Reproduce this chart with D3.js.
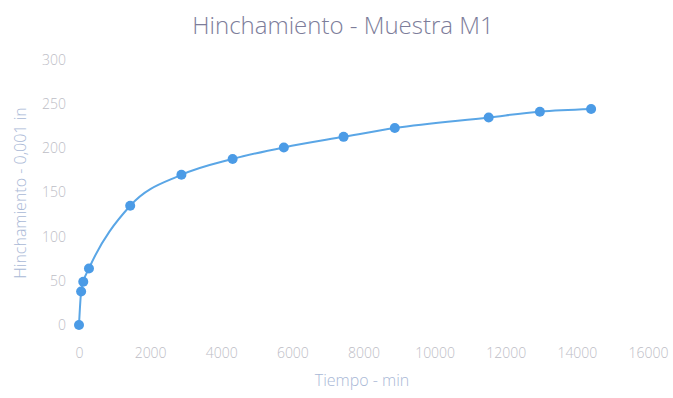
<!DOCTYPE html>
<html>
<head>
<meta charset="utf-8">
<script src="https://cdn.jsdelivr.net/npm/d3@7"></script>
<style>
  body { margin: 0; background: #fff; }
  text { font-family: "Open Sans", Lato, sans-serif; }
</style>
</head>
<body>
<div id="chart"></div>
<script>
// Data
const tiempo = [0, 60, 120, 280, 1440, 2880, 4320, 5760, 7440, 8880, 11520, 12960, 14400];
const hinchamiento = [0, 38, 49, 64, 135, 170, 188, 201, 213, 223, 235, 241.5, 244.5];
const xTicks = [0, 2000, 4000, 6000, 8000, 10000, 12000, 14000, 16000];
const yTicks = [0, 50, 100, 150, 200, 250, 300];

const width = 673, height = 398;
const margin = { top: 60, right: 25, bottom: 73, left: 79 };

const svg = d3.select("#chart")
    .append("svg")
    .attr("width", width)
    .attr("height", height);

const xScale = d3.scaleLinear().domain([0, 16000]).range([margin.left, 648]);
const yScale = d3.scaleLinear().domain([0, 300]).range([325, margin.top]);

// Title
svg.append("text")
    .attr("x", 343)
    .attr("y", 34)
    .attr("text-anchor", "middle")
    .style("font-size", "24px")
    .style("font-weight", 300)
    .style("fill", "#7d7d9a")
    .text("Hinchamiento - Muestra M1");

// x axis (labels only)
const xAxis = d3.axisBottom(xScale).tickValues(xTicks).tickSize(0).tickPadding(0).tickFormat(d3.format("d"));
const gx = svg.append("g")
    .attr("transform", "translate(0,348)")
    .call(xAxis);
gx.select(".domain").remove();
gx.selectAll("text")
    .style("font-size", "14px")
    .style("font-family", "\"Open Sans\", Lato, sans-serif")
    .style("font-weight", 300)
    .attr("fill", "#bdbdc6");

// y axis (labels only)
const yAxis = d3.axisLeft(yScale).tickValues(yTicks).tickSize(0).tickPadding(0).tickFormat(d3.format("d"));
const gy = svg.append("g")
    .attr("transform", "translate(66,0)")
    .call(yAxis);
gy.select(".domain").remove();
gy.selectAll("text")
    .style("font-size", "14px")
    .style("font-family", "\"Open Sans\", Lato, sans-serif")
    .style("font-weight", 300)
    .attr("fill", "#bdbdc6");

// axis titles
svg.append("text")
    .attr("transform", "rotate(-90)")
    .attr("x", -193)
    .attr("y", 26)
    .attr("text-anchor", "middle")
    .style("font-size", "16px")
    .style("font-weight", 300)
    .style("fill", "#a9b8d6")
    .text("Hinchamiento - 0,001 in");

svg.append("text")
    .attr("x", 362)
    .attr("y", 386)
    .attr("text-anchor", "middle")
    .style("font-size", "16px")
    .style("font-weight", 300)
    .style("fill", "#a9b8d6")
    .text("Tiempo - min");

// line + points
const pts = tiempo.map((t, i) => ({ t, v: hinchamiento[i] }));

const line = d3.line()
    .x(d => xScale(d.t))
    .y(d => yScale(d.v))
    .curve(d3.curveMonotoneX);

svg.append("path")
    .datum(pts)
    .attr("d", line)
    .attr("fill", "none")
    .attr("stroke", "#5aa6e6")
    .attr("stroke-width", 2);

svg.selectAll("circle")
    .data(pts)
    .enter().append("circle")
    .attr("cx", d => xScale(d.t))
    .attr("cy", d => yScale(d.v))
    .attr("r", 5)
    .attr("fill", "#4b9be6");
</script>
</body>
</html>
